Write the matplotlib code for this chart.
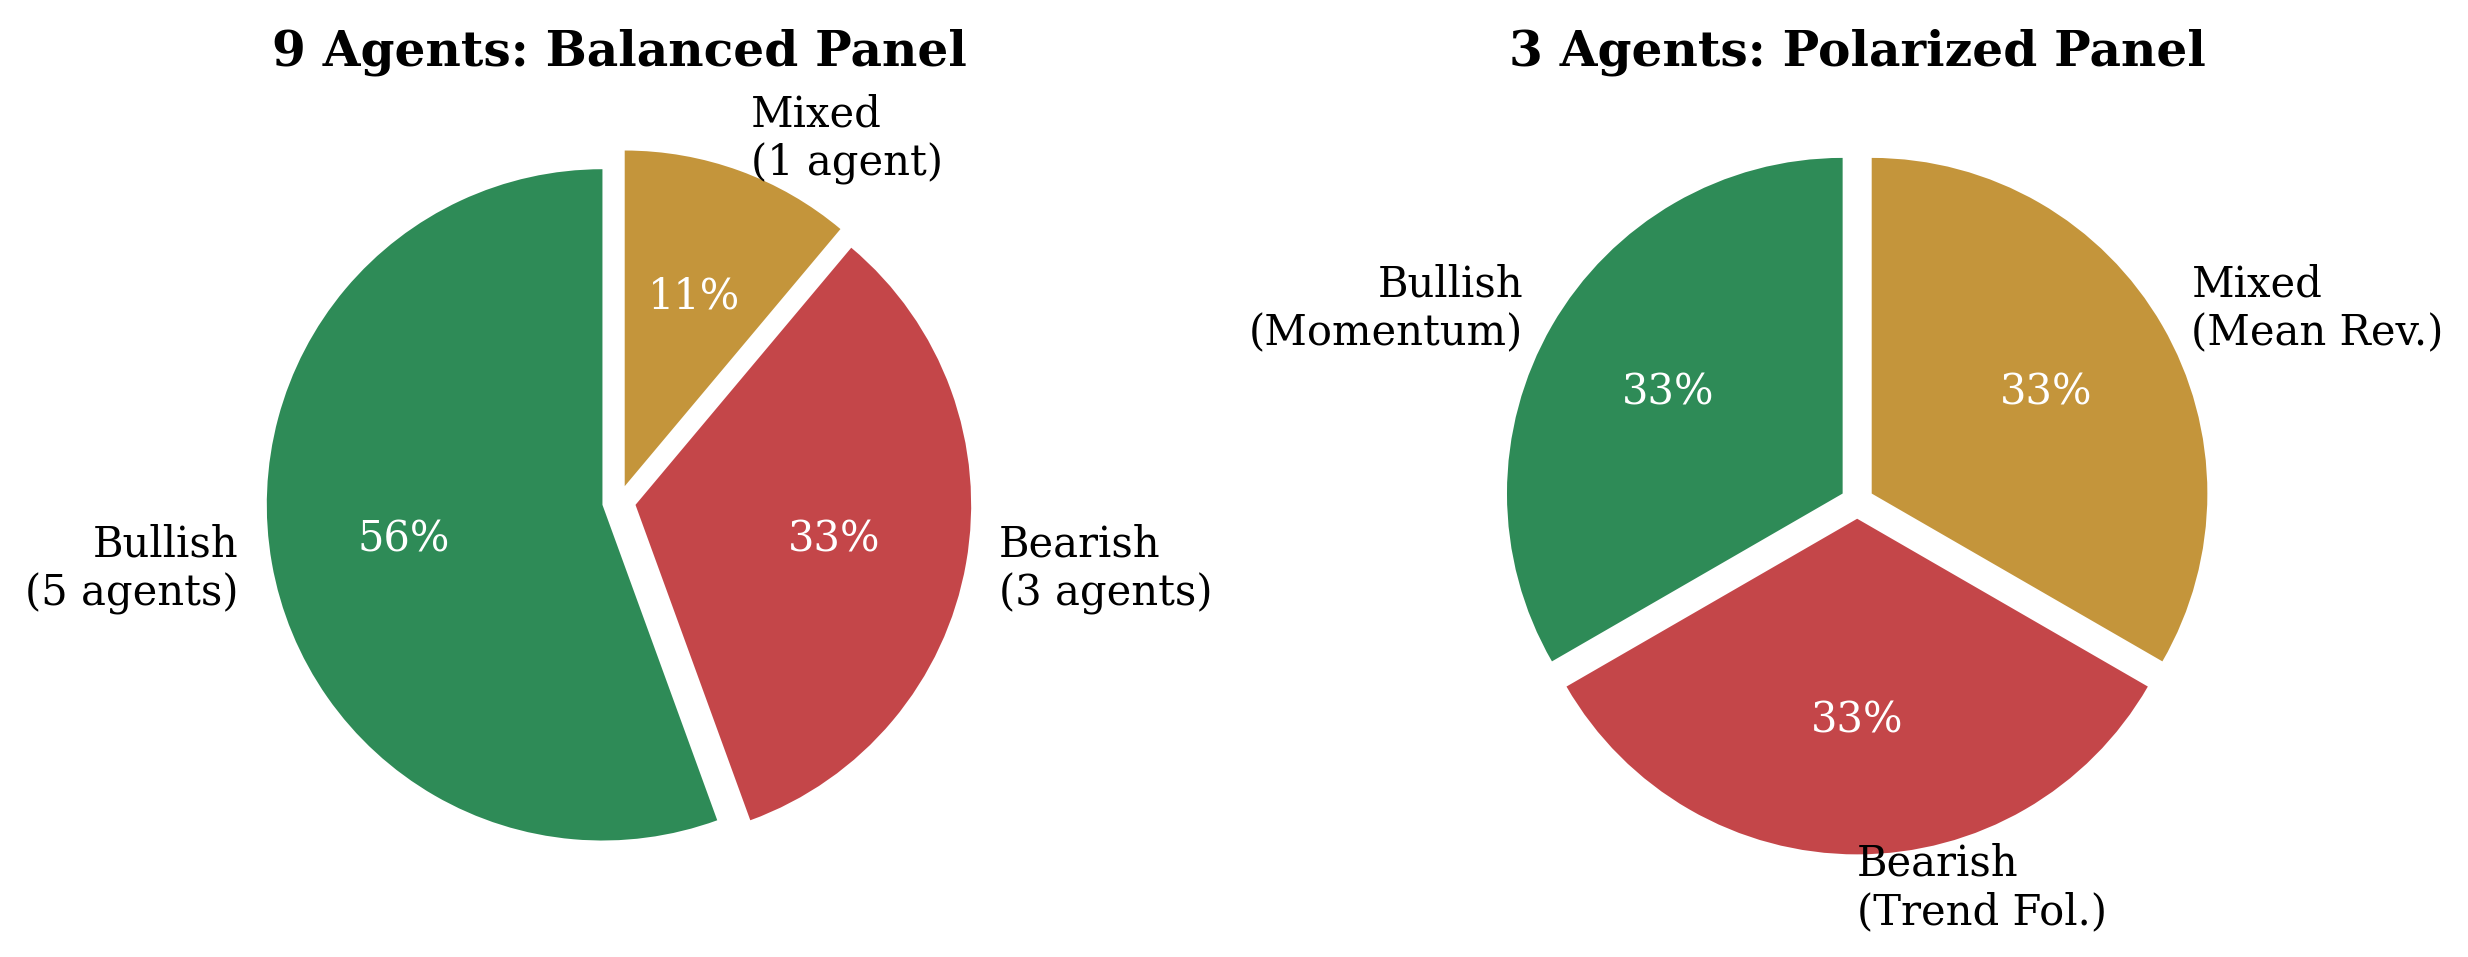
import matplotlib

matplotlib.use("Agg")
import matplotlib.pyplot as plt

plt.rcParams["font.family"] = "serif"
plt.rcParams["font.serif"] = ["DejaVu Serif"]

# Panel A: 9 agents
balanced_labels = ["Bullish\n(5 agents)", "Bearish\n(3 agents)", "Mixed\n(1 agent)"]
balanced_counts = [5, 3, 1]

# Panel B: 3 agents
polar_labels = ["Bullish\n(Momentum)", "Bearish\n(Trend Fol.)", "Mixed\n(Mean Rev.)"]
polar_counts = [1, 1, 1]

colors = ["#2E8B57", "#C44649", "#C4953B"]
explode = [0.05, 0.05, 0.05]

fig = plt.figure(figsize=(12.34, 4.785), dpi=200)
ax1 = fig.add_axes([0.0808, 0.037, 0.340, 0.877])
ax2 = fig.add_axes([0.5825, 0.037, 0.340, 0.877])

for ax, counts, labels, title in [
    (ax1, balanced_counts, balanced_labels, "9 Agents: Balanced Panel"),
    (ax2, polar_counts, polar_labels, "3 Agents: Polarized Panel"),
]:
    wedges, texts, autotexts = ax.pie(
        counts,
        labels=labels,
        colors=colors,
        explode=explode,
        startangle=90,
        autopct="%1.0f%%",
        textprops={"fontsize": 15},
    )
    for t in autotexts:
        t.set_color("white")
    ax.set_aspect("equal")
    ax.set_title(title, fontsize=17.5, fontweight="bold")

fig.savefig("out.png", dpi=200)
